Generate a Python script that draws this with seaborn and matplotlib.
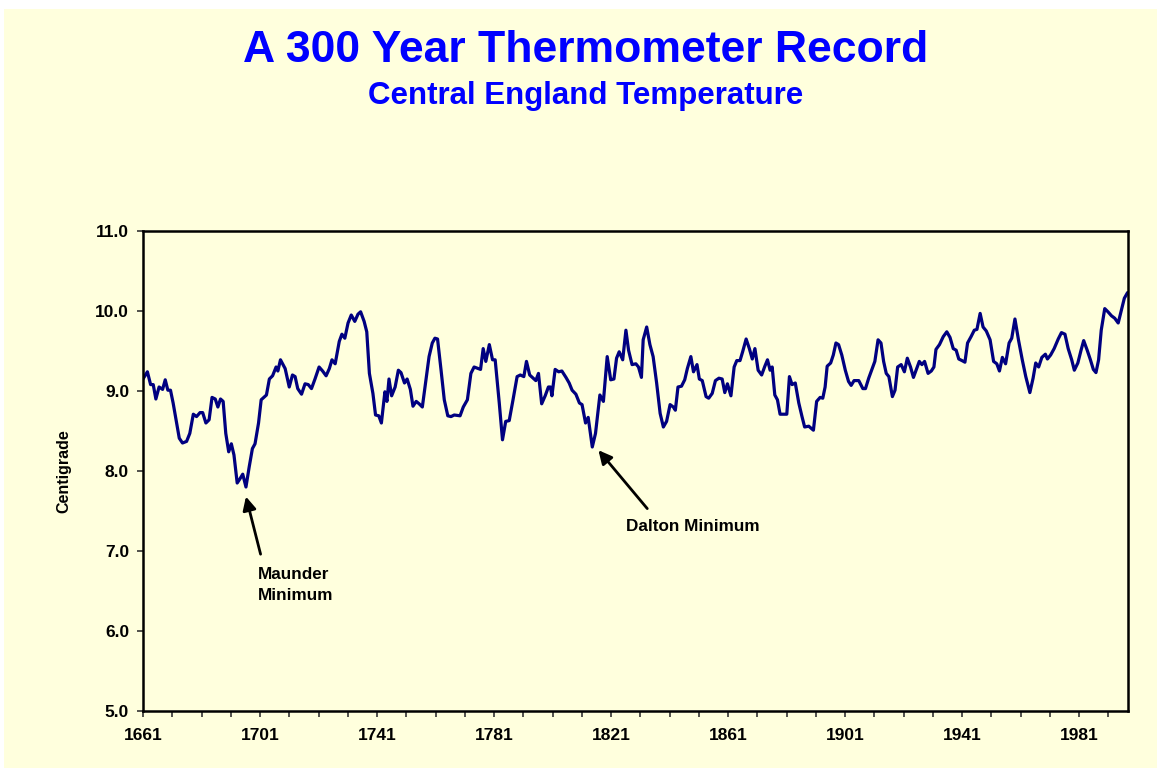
import seaborn as sns
import matplotlib.pyplot as plt
import pandas as pd
from matplotlib.patches import Rectangle

# values (year, mean temperature in C)
years = [1661.0, 1662.5, 1663.6, 1664.5, 1665.4, 1666.5, 1667.7, 1668.6, 1669.5, 1670.4,
         1671.3, 1672.5, 1673.4, 1674.5, 1675.9, 1677.0, 1678.2, 1679.3, 1680.5, 1681.4,
         1682.5, 1683.6, 1684.6, 1685.7, 1686.6, 1687.5, 1688.4, 1689.3, 1690.3, 1691.2,
         1692.1, 1693.2, 1694.1, 1695.1, 1696.2, 1697.3, 1698.4, 1699.3, 1700.5, 1701.4,
         1703.2, 1704.2, 1705.3, 1706.5, 1707.1, 1708.0, 1709.6, 1711.0, 1712.1, 1713.0,
         1713.9, 1715.2, 1716.4, 1717.5, 1718.6, 1719.8, 1721.2, 1722.4, 1723.6, 1724.7,
         1725.6, 1726.7, 1728.1, 1729.0, 1730.0, 1731.1, 1732.2, 1733.4, 1734.5, 1735.4,
         1736.6, 1737.5, 1738.4, 1739.6, 1740.5, 1741.6, 1742.5, 1743.7, 1744.4, 1745.1,
         1746.0, 1747.2, 1748.3, 1749.2, 1750.4, 1751.3, 1752.4, 1753.3, 1754.4, 1755.4,
         1756.5, 1757.6, 1758.8, 1759.9, 1760.8, 1761.7, 1762.9, 1764.0, 1765.2, 1766.3,
         1767.4, 1769.4, 1770.5, 1771.9, 1773.1, 1774.2, 1775.7, 1776.4, 1777.3, 1778.2,
         1779.4, 1780.5, 1781.4, 1782.8, 1783.9, 1785.0, 1786.2, 1787.5, 1788.9, 1790.0,
         1791.2, 1792.1, 1793.2, 1794.4, 1795.3, 1796.2, 1797.3, 1798.5, 1799.6, 1800.3,
         1800.8, 1801.9, 1803.1, 1804.2, 1805.6, 1806.7, 1807.7, 1809.0, 1810.2, 1811.1,
         1812.3, 1813.2, 1814.6, 1815.7, 1817.2, 1818.4, 1819.7, 1820.9, 1822.0, 1822.9,
         1823.8, 1825.0, 1826.1, 1827.0, 1828.2, 1829.5, 1830.4, 1831.4, 1832.0, 1833.2,
         1834.3, 1835.4, 1836.6, 1837.8, 1838.9, 1840.0, 1841.2, 1842.3, 1843.0, 1843.9,
         1845.1, 1846.2, 1847.1, 1848.3, 1849.2, 1850.4, 1851.2, 1852.2, 1853.5, 1854.4,
         1855.6, 1856.7, 1857.9, 1859.0, 1859.9, 1860.8, 1862.0, 1863.1, 1864.0, 1865.1,
         1866.0, 1867.2, 1868.3, 1869.3, 1870.2, 1871.3, 1872.5, 1873.6, 1874.5, 1875.4,
         1876.1, 1877.0, 1877.9, 1878.8, 1879.7, 1881.1, 1882.0, 1882.9, 1884.0, 1885.2,
         1886.3, 1887.2, 1888.6, 1890.2, 1891.3, 1892.5, 1893.4, 1894.2, 1894.9, 1896.1,
         1897.0, 1897.9, 1898.8, 1899.9, 1901.1, 1902.2, 1903.1, 1904.1, 1905.7, 1907.1,
         1908.0, 1909.1, 1910.3, 1911.2, 1912.3, 1913.3, 1914.2, 1915.1, 1916.0, 1917.2,
         1918.1, 1919.0, 1920.2, 1921.3, 1922.3, 1923.4, 1924.4, 1925.5, 1926.4, 1927.3,
         1928.2, 1929.4, 1930.5, 1931.4, 1932.1, 1933.3, 1934.6, 1935.8, 1936.9, 1938.0,
         1939.0, 1939.9, 1941.0, 1942.0, 1942.9, 1944.1, 1945.2, 1946.1, 1947.2, 1948.2,
         1949.3, 1950.6, 1951.8, 1952.9, 1953.8, 1954.8, 1955.9, 1957.1, 1958.0, 1959.1,
         1960.3, 1961.6, 1962.8, 1964.2, 1965.3, 1966.2, 1967.2, 1968.3, 1969.5, 1970.2,
         1971.3, 1972.5, 1973.9, 1975.0, 1976.2, 1977.3, 1978.5, 1979.4, 1980.6, 1981.7,
         1982.6, 1983.8, 1984.9, 1985.9, 1986.8, 1987.7, 1988.6, 1989.8, 1990.9, 1992.1,
         1993.2, 1994.4, 1995.5, 1996.5, 1997.6]
temps = [9.15, 9.24, 9.08, 9.08, 8.90, 9.05, 9.02, 9.14, 9.01, 9.01,
         8.85, 8.60, 8.41, 8.35, 8.37, 8.47, 8.71, 8.68, 8.73, 8.73,
         8.60, 8.64, 8.92, 8.90, 8.80, 8.90, 8.87, 8.47, 8.24, 8.34,
         8.20, 7.85, 7.90, 7.96, 7.80, 8.05, 8.28, 8.34, 8.60, 8.89,
         8.95, 9.15, 9.19, 9.30, 9.25, 9.39, 9.28, 9.05, 9.20, 9.18,
         9.03, 8.96, 9.09, 9.08, 9.03, 9.15, 9.30, 9.25, 9.19, 9.28,
         9.39, 9.34, 9.62, 9.71, 9.66, 9.85, 9.95, 9.87, 9.96, 9.99,
         9.87, 9.74, 9.22, 8.97, 8.70, 8.69, 8.60, 8.99, 8.87, 9.15,
         8.94, 9.05, 9.26, 9.23, 9.10, 9.15, 9.02, 8.81, 8.87, 8.84,
         8.80, 9.10, 9.43, 9.60, 9.66, 9.65, 9.26, 8.89, 8.69, 8.68,
         8.70, 8.69, 8.80, 8.89, 9.22, 9.30, 9.28, 9.27, 9.53, 9.37,
         9.58, 9.39, 9.39, 8.85, 8.39, 8.62, 8.63, 8.89, 9.18, 9.20,
         9.18, 9.37, 9.20, 9.16, 9.13, 9.22, 8.84, 8.94, 9.05, 9.05,
         8.94, 9.27, 9.24, 9.25, 9.17, 9.10, 9.01, 8.96, 8.85, 8.83,
         8.60, 8.67, 8.30, 8.47, 8.95, 8.87, 9.43, 9.14, 9.15, 9.41,
         9.49, 9.39, 9.76, 9.51, 9.33, 9.34, 9.30, 9.17, 9.64, 9.80,
         9.58, 9.43, 9.10, 8.72, 8.55, 8.62, 8.83, 8.80, 8.76, 9.05,
         9.06, 9.14, 9.28, 9.43, 9.24, 9.33, 9.15, 9.13, 8.93, 8.91,
         8.97, 9.13, 9.16, 9.15, 8.98, 9.09, 8.94, 9.30, 9.38, 9.38,
         9.49, 9.65, 9.53, 9.40, 9.53, 9.26, 9.20, 9.31, 9.39, 9.26,
         9.30, 8.95, 8.89, 8.71, 8.71, 8.71, 9.18, 9.08, 9.10, 8.85,
         8.68, 8.55, 8.56, 8.51, 8.87, 8.92, 8.91, 9.05, 9.31, 9.35,
         9.45, 9.60, 9.58, 9.45, 9.26, 9.12, 9.07, 9.13, 9.13, 9.03,
         9.03, 9.16, 9.28, 9.37, 9.64, 9.60, 9.37, 9.22, 9.18, 8.93,
         9.01, 9.30, 9.33, 9.24, 9.41, 9.30, 9.17, 9.28, 9.37, 9.33,
         9.37, 9.22, 9.25, 9.30, 9.52, 9.58, 9.68, 9.74, 9.67, 9.53,
         9.51, 9.40, 9.38, 9.36, 9.60, 9.68, 9.76, 9.77, 9.97, 9.80,
         9.75, 9.64, 9.37, 9.34, 9.25, 9.42, 9.34, 9.60, 9.66, 9.90,
         9.64, 9.39, 9.18, 8.98, 9.16, 9.35, 9.30, 9.42, 9.46, 9.40,
         9.45, 9.53, 9.65, 9.73, 9.71, 9.53, 9.39, 9.26, 9.35, 9.51,
         9.63, 9.51, 9.39, 9.27, 9.23, 9.39, 9.76, 10.03, 9.99, 9.94,
         9.91, 9.85, 10.01, 10.16, 10.23]

minor_years = list(range(1661, 1998, 10))
label_years = [1661, 1701, 1741, 1781, 1821, 1861, 1901, 1941, 1981]
y_ticks = [5.0, 6.0, 7.0, 8.0, 9.0, 10.0, 11.0]

sns.set_style('ticks')
plt.rcParams['font.family'] = ['Liberation Sans', 'DejaVu Sans']
plt.rcParams['font.weight'] = 'bold'
plt.rcParams['text.color'] = 'black'

bg = '#FFFFDD'
fig = plt.figure(figsize=(11.59, 7.72), dpi=100, facecolor='white')
fig.patches.append(Rectangle((4 / 1159, 4 / 772), 1153 / 1159, 759 / 772,
                             transform=fig.transFigure, facecolor=bg,
                             edgecolor='none', zorder=-10))

ax = fig.add_axes([143 / 1159, 61 / 772, 985 / 1159, 480 / 772])
ax.set_facecolor(bg)

df = pd.DataFrame({'Year': years, 'Centigrade': temps})
sns.lineplot(data=df, x='Year', y='Centigrade', color='#000080', lw=2.3, ax=ax)

ax.set_xlim(1661, 1997.75)
ax.set_ylim(5, 11)
ax.set_xticks(minor_years)
ax.set_xticklabels([str(y) if y in label_years else '' for y in minor_years])
ax.set_yticks(y_ticks)
ax.set_yticklabels(['%.1f' % v for v in y_ticks])
ax.tick_params(axis='both', direction='out', length=4, width=1.2, color='#333333',
               labelsize=12.5, labelcolor='black')
ax.tick_params(axis='x', pad=8)
ax.tick_params(axis='y', pad=6)

for s in ax.spines.values():
    s.set_visible(True)
    s.set_color('black')
    s.set_linewidth(1.8)

ax.set_xlabel('')
ax.set_ylabel('Centigrade', fontsize=11.5, fontweight='bold', color='black')
ax.yaxis.set_label_coords(-0.073, 0.5)

# annotations
arrow = dict(arrowstyle='-|>', color='black', lw=2, mutation_scale=20, shrinkA=0, shrinkB=0)
ax.annotate('', xy=(1696.2, 7.68), xytext=(1701.2, 6.96), arrowprops=arrow)
ax.text(1700.4, 6.80, 'Maunder\nMinimum', ha='left', va='top', fontsize=12.3,
        fontweight='bold', linespacing=1.5, color='black')
ax.annotate('', xy=(1816.7, 8.26), xytext=(1833.4, 7.53), arrowprops=arrow)
ax.text(1826.1, 7.31, 'Dalton Minimum', ha='left', va='center', fontsize=12.3,
        fontweight='bold', color='black')

fig.text(586 / 1159, 1 - 51 / 772, 'A 300 Year Thermometer Record', ha='center', va='center',
         fontsize=32, fontweight='bold', color='#0000FF')
fig.text(586 / 1159, 1 - 96 / 772, 'Central England Temperature', ha='center', va='center',
         fontsize=22.5, fontweight='bold', color='#0000FF')

fig.savefig('out.png', dpi=100, facecolor=fig.get_facecolor())
